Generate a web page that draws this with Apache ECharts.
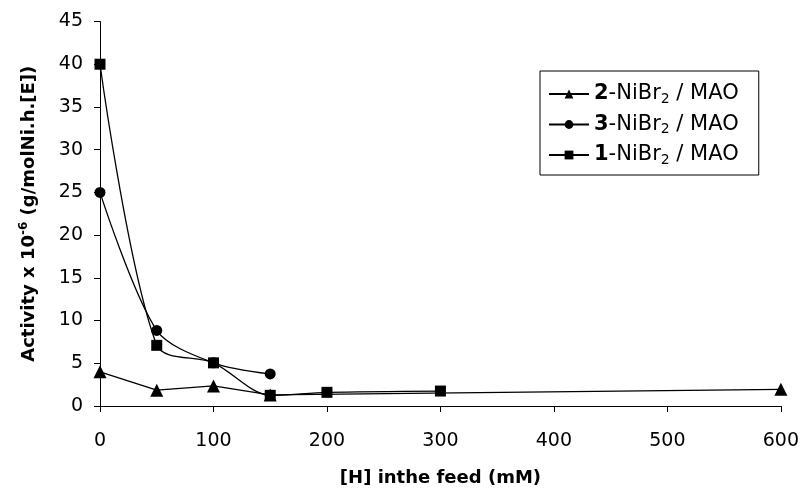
<!DOCTYPE html>
<html>
<head>
<meta charset="utf-8">
<script src="https://cdn.jsdelivr.net/npm/echarts@6/dist/echarts.min.js"></script>
<style>
  html, body { margin: 0; padding: 0; background: #fff; }
  #chart { width: 802px; height: 492px; }
</style>
</head>
<body>
<div id="chart"></div>
<script>
// [H] in the feed (mM) and activity x 10^-6 per catalyst
const catalysts = ['2', '3', '1'];
const hTri = [0, 50, 100, 150, 600];
const actTri = [4.0, 1.85, 2.35, 1.3, 1.95];
const hCirc = [0, 50, 100, 150];
const actCirc = [25.0, 8.85, 5.05, 3.75];
const hSq = [0, 50, 100, 150, 200, 300];
const actSq = [40.0, 7.1, 5.05, 1.25, 1.6, 1.75];
const xTicks = [0, 100, 200, 300, 400, 500, 600];
const yTicks = [0, 5, 10, 15, 20, 25, 30, 35, 40, 45];

const font = "'DejaVu Sans', 'Liberation Sans', Arial, sans-serif";
const pairs = (xs, ys) => xs.map((x, i) => [x, ys[i]]);
const names = catalysts.map(c => c + '-NiBr2 / MAO');

const chart = echarts.init(document.getElementById('chart'), null, { renderer: 'canvas' });

function lineSeries(name, data, symbol, size, smooth) {
  return {
    name, type: 'line', data, symbol, symbolSize: size, smooth,
    lineStyle: { color: '#000', width: 1.3 },
    itemStyle: { color: '#000' },
    emphasis: { disabled: true }
  };
}

chart.setOption({
  backgroundColor: '#fff',
  animation: false,
  textStyle: { fontFamily: font, color: '#000' },
  grid: { left: 100, right: 21, top: 21.5, bottom: 85.3 },
  legend: {
    orient: 'vertical', left: 540, top: 71,
    data: names,
    padding: [11, 20, 8, 8],
    itemGap: 6.5,
    itemWidth: 40, itemHeight: 11,
    borderColor: '#000', borderWidth: 1,
    formatter: n => '{b|' + n.split('-')[0] + '}{t|-NiBr}{sub|2}{t| / MAO}',
    textStyle: {
      fontSize: 21, color: '#000', fontFamily: font, lineHeight: 24,
      rich: {
        t: { fontSize: 21, fontFamily: font, lineHeight: 24 },
        b: { fontSize: 21, fontWeight: 'bold', fontFamily: font, lineHeight: 24 },
        sub: { fontSize: 14, padding: [10, 0, 0, 0], fontFamily: font }
      }
    }
  },
  xAxis: {
    type: 'value', min: xTicks[0], max: xTicks[xTicks.length - 1], interval: 100,
    name: '[H] inthe feed (mM)', nameLocation: 'middle', nameGap: 63,
    nameTextStyle: { fontSize: 18, fontWeight: 'bold', color: '#000', fontFamily: font },
    axisLine: { lineStyle: { color: '#000', width: 1 } },
    axisTick: { show: true, length: 6, lineStyle: { color: '#000' } },
    axisLabel: { fontSize: 19, color: '#000', margin: 26, fontFamily: font },
    splitLine: { show: false }
  },
  yAxis: {
    type: 'value', min: yTicks[0], max: yTicks[yTicks.length - 1], interval: 5,
    name: '{t|Activity x 10}{sup|-6}{t| (g/molNi.h.[E])}', nameLocation: 'middle', nameGap: 60,
    nameTextStyle: {
      fontSize: 18, fontWeight: 'bold', color: '#000', fontFamily: font,
      rich: {
        t: { fontSize: 18, fontWeight: 'bold', fontFamily: font },
        sup: { fontSize: 12, fontWeight: 'bold', padding: [0, 0, 10, 0], fontFamily: font }
      }
    },
    axisLine: { show: true, lineStyle: { color: '#000', width: 1 } },
    axisTick: { show: true, length: 6, lineStyle: { color: '#000' } },
    axisLabel: { fontSize: 19, color: '#000', margin: 17, fontFamily: font },
    splitLine: { show: false }
  },
  series: [
    lineSeries(names[0], pairs(hTri, actTri), 'triangle', 13, false),
    lineSeries(names[1], pairs(hCirc, actCirc), 'circle', 11, 0.3),
    lineSeries(names[2], pairs(hSq, actSq), 'rect', 11, 0.3)
  ]
});
</script>
</body>
</html>
